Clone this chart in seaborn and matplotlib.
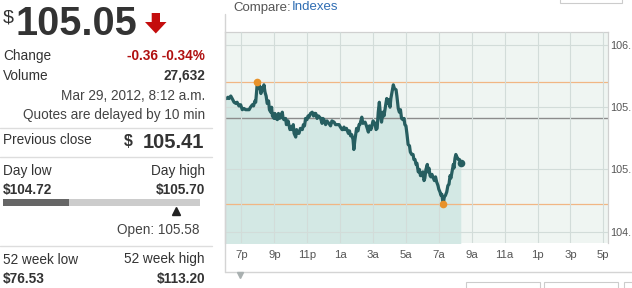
import numpy as np
import pandas as pd
import matplotlib
matplotlib.use("Agg")
import matplotlib.pyplot as plt
import seaborn as sns
from matplotlib.patches import Polygon, Rectangle
from matplotlib.lines import Line2D

# ---------------- data ----------------
# minutes after 6:00 p.m. (Mar 28) and intraday price
minutes = [0, 6, 11, 15, 21, 26, 33, 40, 44, 51,
           57, 63, 69, 75, 81, 88, 93, 100, 104, 109,
           112, 115, 118, 121, 124, 128, 131, 135, 139, 142,
           146, 150, 154, 159, 162, 167, 170, 173, 179, 182,
           186, 191, 195, 199, 203, 209, 212, 215, 221, 224,
           230, 233, 237, 241, 245, 249, 252, 258, 261, 264,
           270, 275, 282, 286, 290, 294, 299, 303, 306, 312,
           318, 323, 326, 331, 336, 341, 349, 354, 357, 361,
           367, 372, 379, 385, 390, 398, 403, 408, 416, 421,
           427, 430, 434, 438, 443, 450, 454, 458, 462, 467,
           470, 474, 480, 485, 489, 492, 499, 503, 511, 516,
           523, 527, 532, 535, 540, 547, 551, 555, 559, 563,
           567, 571, 576, 580, 584, 587, 590, 594, 598, 602,
           605, 609, 614, 618, 624, 627, 632, 636, 640, 644,
           649, 653, 656, 660, 664, 668, 673, 676, 681, 686,
           689, 693, 697, 700, 705, 709, 713, 717, 722, 726,
           729, 733, 738, 740, 744, 748, 751, 755, 760, 764,
           768, 772, 777, 780, 784, 788, 791, 796, 800, 804,
           809, 813, 817, 821, 824, 828, 833, 835, 839, 842,
           846, 851, 855, 860]
prices = [105.57, 105.57, 105.58, 105.57, 105.59, 105.57, 105.54, 105.53, 105.54, 105.51,
          105.52, 105.48, 105.49, 105.48, 105.48, 105.48, 105.50, 105.52, 105.51, 105.55,
          105.54, 105.62, 105.70, 105.65, 105.68, 105.65, 105.61, 105.66, 105.64, 105.68,
          105.62, 105.59, 105.53, 105.55, 105.48, 105.46, 105.50, 105.43, 105.41, 105.45,
          105.41, 105.40, 105.45, 105.41, 105.42, 105.46, 105.41, 105.40, 105.41, 105.36,
          105.39, 105.36, 105.32, 105.34, 105.32, 105.36, 105.29, 105.26, 105.32, 105.29,
          105.29, 105.33, 105.32, 105.36, 105.35, 105.41, 105.40, 105.43, 105.42, 105.45,
          105.46, 105.43, 105.45, 105.45, 105.41, 105.43, 105.41, 105.37, 105.41, 105.40,
          105.36, 105.39, 105.37, 105.35, 105.39, 105.38, 105.36, 105.36, 105.36, 105.34,
          105.32, 105.32, 105.34, 105.32, 105.33, 105.29, 105.31, 105.27, 105.28, 105.24,
          105.16, 105.24, 105.33, 105.31, 105.36, 105.36, 105.42, 105.37, 105.38, 105.35,
          105.30, 105.35, 105.32, 105.34, 105.39, 105.37, 105.32, 105.33, 105.46, 105.54,
          105.44, 105.38, 105.46, 105.43, 105.49, 105.53, 105.57, 105.53, 105.56, 105.50,
          105.57, 105.62, 105.68, 105.65, 105.64, 105.59, 105.49, 105.46, 105.48, 105.41,
          105.40, 105.41, 105.36, 105.35, 105.28, 105.20, 105.19, 105.14, 105.12, 105.12,
          105.08, 105.08, 105.04, 105.05, 104.98, 105.00, 104.95, 104.95, 104.98, 104.91,
          104.93, 105.00, 105.04, 104.98, 105.01, 104.95, 104.94, 104.96, 104.93, 104.91,
          104.94, 104.90, 104.87, 104.84, 104.82, 104.79, 104.80, 104.72, 104.78, 104.79,
          104.82, 104.87, 104.88, 104.95, 104.93, 104.98, 105.04, 105.01, 105.09, 105.12,
          105.10, 105.08, 105.08, 105.05]

last_price_text = "105.05"
change_text = "-0.36 -0.34%"
volume_text = "27,632"
quote_time = "Mar 29, 2012, 8:12 a.m."
delay_note = "Quotes are delayed by 10 min"
current_price = 105.05
prev_close = 105.41
day_low = 104.72
day_high = 105.70
open_price = 105.58
week52_low = 76.53
week52_high = 113.20

x_tick_minutes = [60, 180, 300, 420, 540, 660, 780, 900, 1020, 1140, 1260, 1380]
x_tick_labels = ["7p", "9p", "11p", "1a", "3a", "5a", "7a", "9a", "11a", "1p", "3p", "5p"]
y_ticks = [104.5, 105.0, 105.5, 106.0]
y_tick_labels = ["104.", "105.", "105.", "106."]

# ---------------- style ----------------
sns.set_style("white")
plt.rcParams['font.family'] = ['Liberation Sans', 'DejaVu Sans']

W, H = 632, 288
fig = plt.figure(figsize=(W / 100, H / 100), dpi=100)
fig.patch.set_facecolor("white")


def fx(x):
    return x / W


def fy(y):
    return 1 - y / H


def T(x, y, s, ha="left", size=9.8, color="#333333", weight="normal", **kw):
    fig.text(fx(x), fy(y), s, ha=ha, va="baseline", fontsize=size,
             color=color, fontweight=weight, **kw)


def hline(x0, x1, y, color="#dddddd", lw=1.0):
    fig.add_artist(Line2D([fx(x0), fx(x1)], [fy(y), fy(y)], color=color, lw=lw,
                          transform=fig.transFigure))


# ---------------- left panel ----------------
T(2.5, 23, "$", size=14, color="#333333")
T(16, 35, last_price_text, size=28.5, weight="bold", color="#333333")
arrow = [(151.7, 13), (160, 13), (160, 22), (166.5, 22), (155.8, 33.5),
         (145, 22), (151.7, 22)]
fig.add_artist(Polygon([(fx(a), fy(b)) for a, b in arrow], closed=True,
                       facecolor="#c40d0d", edgecolor="none",
                       transform=fig.transFigure))

T(3, 60, "Change")
T(205, 60, change_text, ha="right", weight="bold", color="#b01010")
T(3, 80, "Volume")
T(205, 80, volume_text, ha="right", weight="bold")
T(205, 100, quote_time, ha="right", color="#444444")
T(205, 119.5, delay_note, ha="right", color="#444444")
hline(0, 212, 128)

T(3, 144.5, "Previous close")
T(204, 148.5, f"{prev_close:.2f}", ha="right", size=14.5, weight="bold")
T(133, 146, "$", ha="right", size=11.5, weight="bold")
hline(0, 212, 157)

T(3, 174.5, "Day low")
T(205, 174.5, "Day high", ha="right")
T(3, 194, f"${day_low:.2f}", weight="bold")
T(205, 194, f"${day_high:.2f}", ha="right", weight="bold")

bax = fig.add_axes([fx(3), fy(214), 197 / W, 17 / H])
bax.set_xlim(day_low, day_high)
bax.set_ylim(0, 1)
bax.barh([0.667], [day_high - day_low], left=day_low, height=0.395,
         color="#cccccc", linewidth=0)
bax.barh([0.667], [current_price - day_low], left=day_low, height=0.395,
         color="#666666", linewidth=0)
bax.plot([open_price], [0.2], marker="^", color="#222222", ms=5.5,
         linestyle="none", clip_on=False)
bax.axis("off")

T(199.5, 234, f"Open: {open_price:.2f}", ha="right", color="#444444")
hline(0, 212, 246)
T(3, 263.5, "52 week low")
T(205, 263.5, "52 week high", ha="right")
T(3, 283.5, f"${week52_low:.2f}", weight="bold")
T(205, 283.5, f"${week52_high:.2f}", ha="right", weight="bold")

# ---------------- chart header / frame ----------------
T(233, 10.5, "Compare:", color="#555555", size=9.5)
T(292, 10.5, "Indexes", color="#2f6db3", size=9.5)
fig.add_artist(Rectangle((fx(560), fy(3.3)), (622 - 560) / W, 10 / H,
                         facecolor="white", edgecolor="#cccccc", lw=0.8,
                         transform=fig.transFigure))
fig.add_artist(Line2D([fx(225), fx(225)], [fy(14), fy(272)], color="#d4d4d4",
                      lw=1, transform=fig.transFigure))
hline(225, 632, 272, color="#d4d4d4")
fig.add_artist(Line2D([fx(240)], [fy(275)], marker="v", color="#a9b0b0", ms=5,
                      linestyle="none", transform=fig.transFigure))
for x0, x1 in [(466, 540), (544, 618), (624, 640)]:
    fig.add_artist(Rectangle((fx(x0), fy(292)), (x1 - x0) / W, 10.3 / H,
                             facecolor="white", edgecolor="#cccccc", lw=0.8,
                             transform=fig.transFigure))

# ---------------- main chart ----------------
df = pd.DataFrame({"minute": minutes, "price": prices})
ymin, ymax = 104.406, 106.107

ax = fig.add_axes([fx(225), fy(243.3), (607.7 - 225) / W, (243.3 - 31.7) / H])
ax.set_facecolor("#eff5f2")
ax.fill_between(df["minute"], df["price"], ymin - 1, color="#d3e8e4", lw=0,
                zorder=1)
ax.set_axisbelow(False)
ax.grid(True, color="#d2dcd9", lw=0.8, zorder=1.5)
ax.axhline(day_high, color="#f1b684", lw=0.9, zorder=2)
ax.axhline(day_low, color="#f1b684", lw=0.9, zorder=2)
ax.axhline(prev_close, color="#8c8c8c", lw=1.0, zorder=2)
sns.lineplot(data=df, x="minute", y="price", ax=ax, color="#265e60",
             lw=2.3, zorder=4, estimator=None)
i_hi = int(np.argmax(prices))
i_lo = int(np.argmin(prices))
ax.plot([minutes[i_hi], minutes[i_lo]], [prices[i_hi], prices[i_lo]], "o",
        color="#e8922a", ms=5.5, zorder=5, mec="none")
ax.plot([minutes[-1]], [prices[-1]], "o", color="#265e60", ms=5.5, zorder=5,
        mec="none")

ax.set_xlim(0, 1396)
ax.set_ylim(ymin, ymax)
ax.set_xticks(x_tick_minutes)
ax.set_xticklabels(x_tick_labels)
ax.set_yticks(y_ticks)
ax.set_yticklabels(y_tick_labels)
ax.yaxis.tick_right()
ax.tick_params(axis="x", length=0, pad=5, labelsize=8.2, labelcolor="#555555")
ax.tick_params(axis="y", length=0, pad=1.6, labelsize=7.8, labelcolor="#555555")
ax.set_xlabel("")
ax.set_ylabel("")
for side in ["top", "left", "right"]:
    ax.spines[side].set_visible(True)
    ax.spines[side].set_color("#d0d0d0")
    ax.spines[side].set_linewidth(0.9)
ax.spines["bottom"].set_visible(False)

fig.savefig("out.png", dpi=100)
